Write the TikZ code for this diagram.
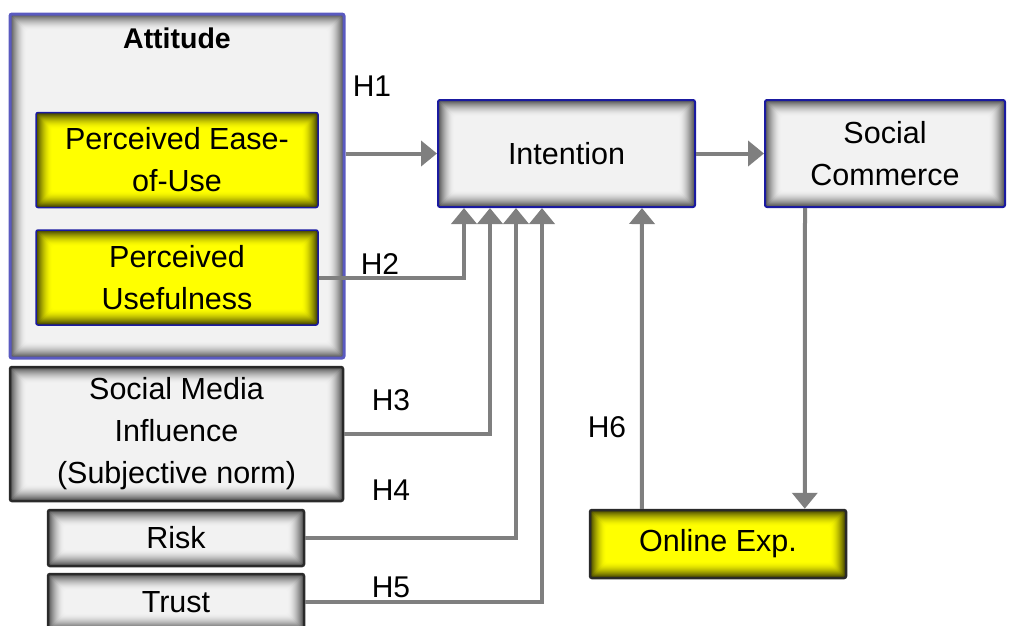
\documentclass[tikz,border=0pt]{standalone}
\usepackage{fontspec}
\setmainfont{Liberation Sans}
\usetikzlibrary{arrows.meta,calc}

\definecolor{boxgray}{HTML}{F2F2F2}
\definecolor{edgegray}{HTML}{505050}
\definecolor{boxyellow}{HTML}{FFFF00}
\definecolor{edgeyellow}{HTML}{404000}
\definecolor{rimblue}{HTML}{5A5AC0}
\definecolor{darkblue}{HTML}{1A1AA0}
\definecolor{rimdark}{HTML}{2A2A2A}
\definecolor{linkgray}{HTML}{7F7F7F}

\tikzset{
  % inner shadow: nested rectangles fading from the edge colour to the fill
  innershade/.style 2 args={
    path picture={
      \foreach \i in {0,...,16}{
        \pgfmathsetmacro\p{100*(1-\i/16)^1.7}
        \fill[#1!\p!#2]
          ([xshift=\i pt,yshift=\i pt]path picture bounding box.south west)
          rectangle
          ([xshift=-\i pt,yshift=-\i pt]path picture bounding box.north east);
      }
    }
  },
  basebox/.style={rectangle, rounded corners=2pt, inner sep=0pt,
    align=center, font=\fontsize{30.5}{42}\selectfont},
  graybox/.style={basebox, innershade={edgegray}{boxgray}},
  yellowbox/.style={basebox, innershade={edgeyellow}{boxyellow}},
  link/.style={draw=linkgray, line width=4pt,
    -{Triangle[width=25pt,length=16pt]}},
  hyp/.style={font=\fontsize{30}{34}\selectfont, inner sep=0pt},
}

\begin{document}
\begin{tikzpicture}[x=1pt,y=-1pt]
  \useasboundingbox (0,0) rectangle (1011,625);

  % attitude group
  \node[graybox, draw=rimblue, line width=3pt,
        minimum width=334pt, minimum height=344pt] (att) at (177,186) {};
  \node[font=\fontsize{28.5}{34}\selectfont\bfseries, inner sep=0pt] (atttitle) at (177,38) {Attitude};
  \node[yellowbox, draw=darkblue, line width=1.5pt,
        minimum width=282pt, minimum height=95pt] (peou) at (177,160)
        {Perceived Ease-\\of-Use};
  \node[yellowbox, draw=darkblue, line width=1.5pt,
        minimum width=282pt, minimum height=95pt] (pu) at (177,277.5)
        {Perceived\\Usefulness};

  % other antecedents
  \node[graybox, draw=rimdark, line width=2.5pt,
        minimum width=333pt, minimum height=134pt] (smi) at (176.5,434)
        {Social Media\\Influence\\(Subjective norm)};
  \node[graybox, draw=rimdark, line width=2.5pt,
        minimum width=256pt, minimum height=56pt] (risk) at (176,538) {Risk};
  \node[graybox, draw=rimdark, line width=2.5pt,
        minimum width=256pt, minimum height=56pt] (trust) at (176,602) {Trust};

  % outcomes
  \node[graybox, draw=darkblue, line width=2pt,
        minimum width=257pt, minimum height=107pt] (int) at (566.5,153.5) {Intention};
  \node[graybox, draw=darkblue, line width=2pt,
        minimum width=240pt, minimum height=107pt] (sc) at (885,153.5)
        {Social\\Commerce};
  \node[yellowbox, draw=rimdark, line width=2.5pt,
        minimum width=256pt, minimum height=68pt] (ol) at (718,544) {Online Exp.};

  % hypothesis paths
  \draw[link] (att.east |- int.west) -- (int.west);
  \draw[link] (int.east) -- (sc.west);
  \draw[link] (pu.east) -| ($(int.south west)+(27,0)$);
  \draw[link] (smi.east) -| ($(int.south west)+(53,0)$);
  \draw[link] (risk.east) -| ($(int.south west)+(79,0)$);
  \draw[link] (trust.east) -| ($(int.south west)+(105,0)$);
  \draw[link] ($(ol.north west)+(53,0)$) -- ($(int.south west)+(205,0)$);
  \draw[link] ($(sc.south west)+(41,0)$) -- ($(ol.north west)+(216,0)$);

  % hypothesis labels
  \node[hyp] (h1) at (372,86) {H1};
  \node[hyp] (h2) at (380,264) {H2};
  \node[hyp] (h3) at (391,400) {H3};
  \node[hyp] (h4) at (391,490) {H4};
  \node[hyp] (h5) at (391,587) {H5};
  \node[hyp] (h6) at (607,427) {H6};
\end{tikzpicture}
\end{document}
